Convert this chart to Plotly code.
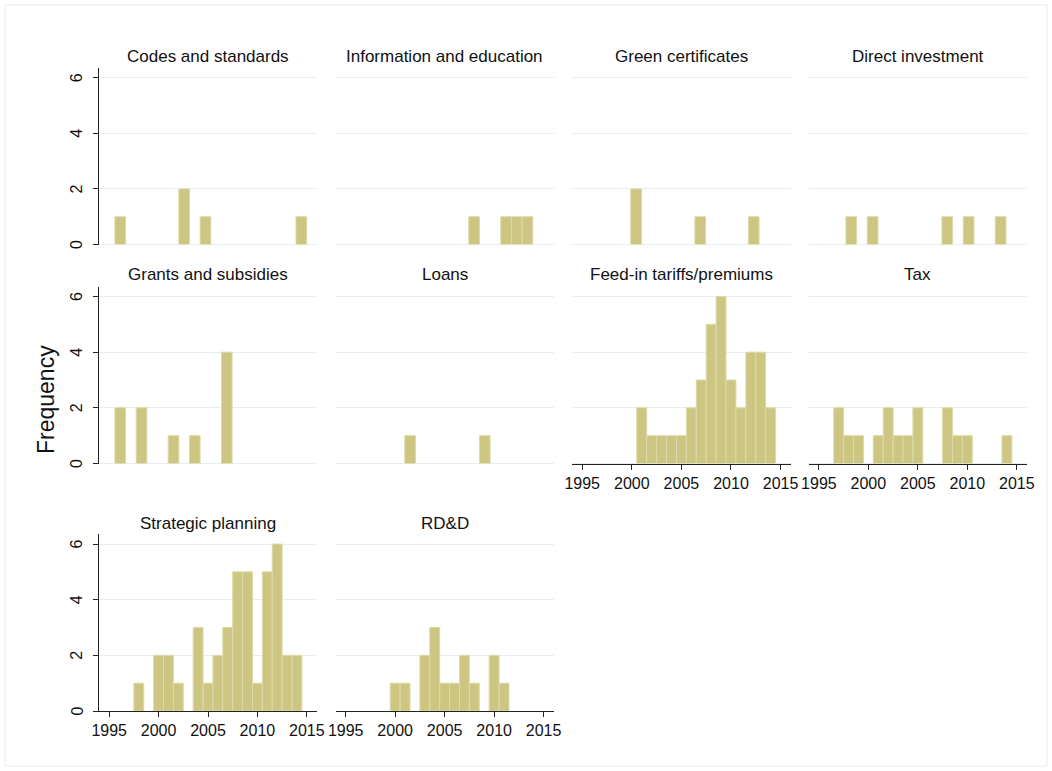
import plotly.graph_objects as go

W, H = 1052, 771

# ---------------- data ----------------
titles = ["Codes and standards", "Information and education", "Green certificates", "Direct investment",
          "Grants and subsidies", "Loans", "Feed-in tariffs/premiums", "Tax",
          "Strategic planning", "RD&D"]

# panels with 18 bins (start 1995.58, width 1.078)
binsA_start = 1995.58
binsA_width = 1.078
codes = [1, 0, 0, 0, 0, 0, 2, 0, 1, 0, 0, 0, 0, 0, 0, 0, 0, 1]
info = [0, 0, 0, 0, 0, 0, 0, 0, 0, 0, 0, 1, 0, 0, 1, 1, 1, 0]
green = [0, 0, 0, 0, 2, 0, 0, 0, 0, 0, 1, 0, 0, 0, 0, 1, 0, 0]
direct = [0, 0, 1, 0, 1, 0, 0, 0, 0, 0, 0, 1, 0, 1, 0, 0, 1, 0]
grants = [2, 0, 2, 0, 0, 1, 0, 1, 0, 0, 4, 0, 0, 0, 0, 0, 0, 0]
loans = [0, 0, 0, 0, 0, 1, 0, 0, 0, 0, 0, 0, 1, 0, 0, 0, 0, 0]

# panels with yearly bins, 1996..2014
binsB_start = 1995.5
binsB_width = 1.0
fit = [0, 0, 0, 0, 0, 2, 1, 1, 1, 1, 2, 3, 5, 6, 3, 2, 4, 4, 2]
tax = [0, 2, 1, 1, 0, 1, 2, 1, 1, 2, 0, 0, 2, 1, 1, 0, 0, 0, 1]
strategic = [0, 0, 1, 0, 2, 2, 1, 0, 3, 1, 2, 3, 5, 5, 1, 5, 6, 2, 2]
rdd = [0, 0, 0, 0, 1, 1, 0, 2, 3, 1, 1, 2, 1, 0, 2, 1, 0, 0, 0]

x_ticks = [1995, 2000, 2005, 2010, 2015]
y_ticks = [0, 2, 4, 6]

panels = [
    (codes, binsA_start, binsA_width),
    (info, binsA_start, binsA_width),
    (green, binsA_start, binsA_width),
    (direct, binsA_start, binsA_width),
    (grants, binsA_start, binsA_width),
    (loans, binsA_start, binsA_width),
    (fit, binsB_start, binsB_width),
    (tax, binsB_start, binsB_width),
    (strategic, binsB_start, binsB_width),
    (rdd, binsB_start, binsB_width),
]
show_x = [False, False, False, False, False, False, True, True, True, True]

# ---------------- layout geometry (pixels) ----------------
col_px = [(99.3, 316.7), (335.8, 553.5), (572.3, 790.5), (809.0, 1026.7)]
row_px = [(68.0, 244.5), (286.7, 463.5), (534.3, 711.0)]
title_y = [56.5, 275.0, 523.5]
ylabel_x = 76.5

FONT = "Liberation Sans, Arial, sans-serif"
BAR_FILL = "#cdc582"
BAR_LINE = "#dedaa8"
GRID = "#e7eef1"
AXIS = "#222222"

fig = go.Figure()
layout = dict(
    width=W, height=H, autosize=False,
    margin=dict(l=0, r=0, t=0, b=0, pad=0),
    paper_bgcolor="white", plot_bgcolor="white",
    showlegend=False,
    font=dict(family=FONT, color="#111111"),
    annotations=[], shapes=[],
)

for i, (counts, start, width) in enumerate(panels):
    r, c = divmod(i, 4)
    k = i + 1
    xs, ys = [], []
    for j, v in enumerate(counts):
        if v > 0:
            xs.append(start + width * (j + 0.5))
            ys.append(v)
    fig.add_trace(go.Bar(
        x=xs, y=ys, width=width,
        marker=dict(color=BAR_FILL, line=dict(color=BAR_LINE, width=1)),
        xaxis=f"x{k}", yaxis=f"y{k}", hoverinfo="skip",
    ))
    x0, x1 = col_px[c]
    y0, y1 = row_px[r]
    xa = dict(
        domain=[x0 / W, x1 / W], range=[1994, 2016], anchor=f"y{k}",
        showgrid=False, zeroline=False, fixedrange=True, automargin=False,
    )
    if show_x[i]:
        xa.update(showline=True, linecolor=AXIS, linewidth=1, ticks="outside", ticklen=5,
                  tickcolor=AXIS, tickwidth=1, tickvals=x_ticks, showticklabels=True,
                  tickfont=dict(size=16, family=FONT, color="#111111"))
    else:
        xa.update(showline=False, ticks="", showticklabels=False)
    ya = dict(
        domain=[(H - y1) / H, (H - y0) / H], range=[0, 6.35], anchor=f"x{k}",
        tickvals=y_ticks, showgrid=True, gridcolor=GRID, gridwidth=1,
        zeroline=True, zerolinecolor=GRID, zerolinewidth=1, fixedrange=True, automargin=False,
        showticklabels=False,
    )
    if c == 0:
        ya.update(showline=True, linecolor=AXIS, linewidth=1, ticks="outside", ticklen=5,
                  tickcolor=AXIS, tickwidth=1)
        for v in y_ticks:
            layout["annotations"].append(dict(
                text=str(v), x=ylabel_x / W, y=v, xref="paper", yref=f"y{k}",
                xanchor="center", yanchor="middle", textangle=-90, showarrow=False,
                font=dict(size=16, family=FONT, color="#111111"),
            ))
    else:
        ya.update(showline=False, ticks="")
    layout[f"xaxis{k}" if k > 1 else "xaxis"] = xa
    layout[f"yaxis{k}" if k > 1 else "yaxis"] = ya
    layout["annotations"].append(dict(
        text=titles[i], x=(x0 + x1) / 2 / W, y=(H - title_y[r]) / H,
        xref="paper", yref="paper", xanchor="center", yanchor="middle",
        showarrow=False, font=dict(size=17, family=FONT, color="#111111"),
    ))

layout["annotations"].append(dict(
    text="Frequency", x=46 / W, y=(H - 400) / H, xref="paper", yref="paper",
    xanchor="center", yanchor="middle", textangle=-90, showarrow=False,
    font=dict(size=23, family=FONT, color="#111111"),
))
layout["shapes"].append(dict(
    type="rect", xref="paper", yref="paper",
    x0=5 / W, x1=(W - 5) / W, y0=5 / H, y1=(H - 5) / H,
    line=dict(color="#e6ecef", width=1), fillcolor="rgba(0,0,0,0)", layer="below",
))

fig.update_layout(**layout)
fig.write_html(
    "out.html",
    config={"displayModeBar": False},
    post_script="document.body.style.margin='0';document.body.style.overflow='hidden';",
)
